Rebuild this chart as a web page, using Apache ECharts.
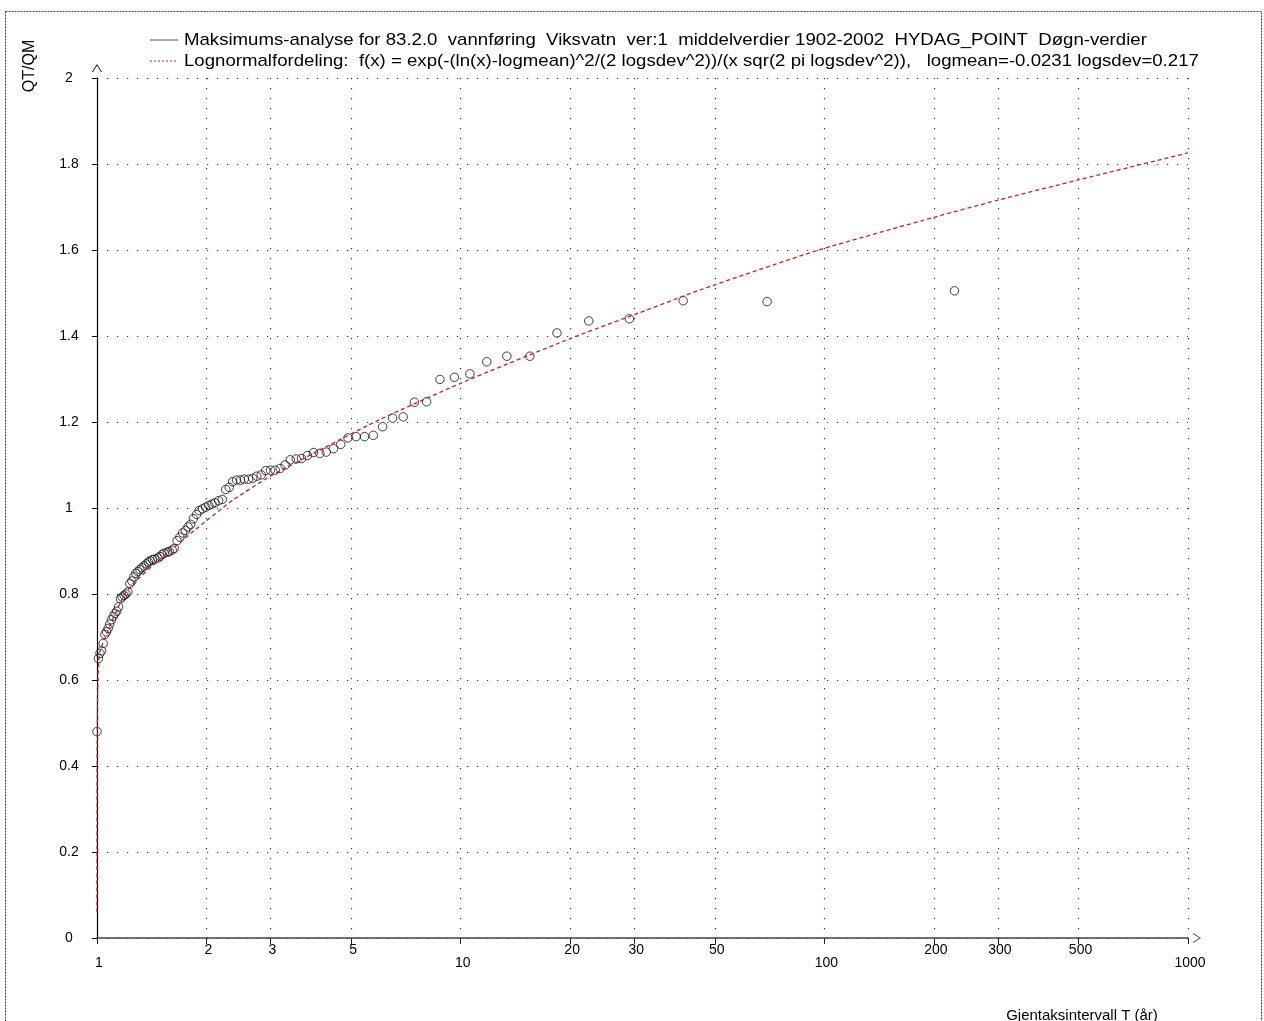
<!DOCTYPE html>
<html>
<head>
<meta charset="utf-8">
<script src="https://cdn.jsdelivr.net/npm/echarts@6/dist/echarts.min.js"></script>
<style>
  html, body { margin: 0; padding: 0; background: #fff; }
  #main { width: 1264px; height: 1021px; }
</style>
</head>
<body>
<div id="main"></div>
<script>
// return period T (years) of each observed annual max, largest first
const returnPeriods = [
  228, 69.6, 40.9, 29.1, 22.5, 18.4, 15.5, 13.4, 11.8, 10.6, 9.61, 8.77, 8.06, 7.46, 6.95, 6.50,
  6.10, 5.75, 5.44, 5.16, 4.90, 4.68, 4.47, 4.27, 4.10, 3.94, 3.79, 3.65, 3.53, 3.40, 3.29,
  3.19, 3.09, 3.00, 2.91, 2.83, 2.75, 2.68, 2.61, 2.54, 2.48, 2.42, 2.36, 2.31, 2.26,
  2.21, 2.16, 2.11, 2.07, 2.03, 1.99, 1.95, 1.91, 1.88, 1.84, 1.81, 1.78, 1.75, 1.72, 1.69,
  1.66, 1.63, 1.61, 1.58, 1.56, 1.53, 1.51, 1.49, 1.47, 1.44, 1.42, 1.40, 1.385, 1.366, 1.347,
  1.329, 1.312, 1.295, 1.279, 1.262, 1.247, 1.231, 1.216, 1.201, 1.187, 1.173, 1.160, 1.146,
  1.133, 1.121, 1.108, 1.096, 1.084, 1.073, 1.062, 1.051, 1.040, 1.029, 1.019, 1.009, 1.0
];
// QT/QM of the same points
const qtqm = [
  1.505, 1.480, 1.482, 1.440, 1.435, 1.407, 1.353, 1.353, 1.340, 1.312, 1.304, 1.299, 1.247, 1.246, 1.212, 1.209,
  1.189, 1.169, 1.166, 1.166, 1.163, 1.148, 1.138, 1.130, 1.127, 1.129, 1.122, 1.115, 1.114, 1.112, 1.100,
  1.092, 1.088, 1.088, 1.087, 1.077, 1.074, 1.069, 1.067, 1.067, 1.065, 1.065, 1.061, 1.048, 1.043,
  1.020, 1.017, 1.012, 1.009, 1.006, 1.002, 0.998, 0.994, 0.985, 0.975, 0.962, 0.956, 0.948, 0.942, 0.932,
  0.924, 0.906, 0.902, 0.899, 0.897, 0.895, 0.892, 0.887, 0.884, 0.881, 0.880, 0.877, 0.874, 0.870, 0.865,
  0.861, 0.857, 0.852, 0.848, 0.840, 0.830, 0.824, 0.805, 0.800, 0.797, 0.793, 0.789, 0.770, 0.760,
  0.755, 0.748, 0.740, 0.730, 0.720, 0.712, 0.706, 0.685, 0.668, 0.662, 0.650, 0.480
];

// lognormal curve
const fitT = [1.0, 1.001, 1.005, 1.019, 1.18, 1.26, 1.49, 1.86, 2.37, 3.0, 4.37, 6.0, 10, 20, 31, 45.5, 96.6, 200, 300, 500, 1000];
const fitQ = [0.06, 0.45, 0.58, 0.666, 0.794, 0.825, 0.881, 0.949, 1.019, 1.074, 1.147, 1.206, 1.29, 1.394, 1.454, 1.507, 1.60, 1.676, 1.716, 1.763, 1.826];

const xTicks = [1, 2, 3, 5, 10, 20, 30, 50, 100, 200, 300, 500, 1000];
const majorTicks = [1, 10, 100, 1000];

const legendObs = 'Maksimums-analyse for 83.2.0  vannføring  Viksvatn  ver:1  middelverdier 1902-2002  HYDAG_POINT  Døgn-verdier';
const legendFit = 'Lognormalfordeling:  f(x) = exp(-(ln(x)-logmean)^2/(2 logsdev^2))/(x sqr(2 pi logsdev^2)),   logmean=-0.0231 logsdev=0.217';

const FONT = '"Liberation Sans", Arial, sans-serif';
const ARROW = 'path://M0,8 L5,0 L10,8 L9,8 L5,1.6 L1,8 Z';

var chart = echarts.init(document.getElementById('main'));

const lg = (v) => Math.log10(v);
const obsData = returnPeriods.map((t, i) => [lg(t), qtqm[i]]);
const fitData = fitT.map((t, i) => [lg(t), fitQ[i]]);

const option = {
  backgroundColor: '#fff',
  animation: false,
  textStyle: { fontFamily: FONT },
  grid: { left: 97, right: 76, top: 78, bottom: 83 },
  xAxis: {
    type: 'value',
    min: 0,
    max: 3,
    axisLine: {
      lineStyle: { color: '#444', width: 1.5 },
      symbol: ['none', ARROW],
      symbolSize: [10, 9],
      symbolOffset: [0, 9]
    },
    axisTick: {
      customValues: xTicks.map(lg),
      length: 6,
      lineStyle: { color: '#222' }
    },
    axisLabel: {
      customValues: xTicks.map(lg),
      color: '#000',
      fontSize: 14,
      fontFamily: FONT,
      margin: 5,
      formatter: (v) => {
        const t = Math.round(Math.pow(10, v));
        return majorTicks.includes(t) ? '{maj|' + t + '}' : '{min|' + t + '}';
      },
      rich: {
        maj: { fontSize: 14, fontFamily: FONT, color: '#000', padding: [13, 0, 0, 4] },
        min: { fontSize: 14, fontFamily: FONT, color: '#000', padding: [0, 0, 0, 4] }
      }
    },
    splitLine: {
      show: true,
      lineStyle: { color: '#333', width: 1.2, type: [1.2, 8.8] }
    }
  },
  yAxis: {
    type: 'value',
    min: 0,
    max: 2,
    interval: 0.2,
    axisLine: {
      show: true,
      lineStyle: { color: '#000', width: 1.2 },
      symbol: ['none', ARROW],
      symbolSize: [10, 9],
      symbolOffset: [0, 10]
    },
    axisTick: { show: true, length: 5, lineStyle: { color: '#000' } },
    axisLabel: { color: '#000', fontSize: 14, fontFamily: FONT, margin: 28, align: 'center' },
    splitLine: {
      show: true,
      lineStyle: { color: '#333', width: 1.2, type: [1.2, 8.8] }
    }
  },
  series: [
    {
      name: legendObs,
      type: 'scatter',
      data: obsData,
      symbol: 'circle',
      symbolSize: 8.5,
      clip: false,
      itemStyle: { color: 'rgba(0,0,0,0)', borderColor: '#111', borderWidth: 1 },
      z: 3
    },
    {
      name: legendFit,
      type: 'line',
      data: fitData,
      showSymbol: false,
      symbol: 'none',
      smooth: 0.2,
      clip: false,
      lineStyle: { color: '#cc2020', width: 1.3, type: [4, 3] },
      z: 4
    }
  ],
  graphic: [
    {
      type: 'rect',
      shape: { x: 5.5, y: 11.5, width: 1256, height: 1040 },
      style: { fill: 'none', stroke: '#444', lineWidth: 1, lineDash: [2, 1] },
      silent: true
    },
    {
      type: 'line',
      shape: { x1: 150, y1: 40, x2: 178, y2: 40 },
      style: { stroke: '#555', lineWidth: 1 }
    },
    {
      type: 'text',
      x: 184, y: 40,
      scaleX: 1.095,
      style: { text: legendObs, font: '17px ' + FONT, fill: '#000', verticalAlign: 'middle' }
    },
    {
      type: 'line',
      shape: { x1: 150, y1: 61, x2: 178, y2: 61 },
      style: { stroke: '#cc2020', lineWidth: 1, lineDash: [2, 2] }
    },
    {
      type: 'text',
      x: 184, y: 61,
      scaleX: 1.095,
      style: { text: legendFit, font: '17px ' + FONT, fill: '#000', verticalAlign: 'middle' }
    },
    {
      type: 'text',
      x: 30, y: 66,
      rotation: Math.PI / 2,
      style: { text: 'QT/QM', font: '16px ' + FONT, fill: '#000', align: 'center', verticalAlign: 'middle' }
    },
    {
      type: 'text',
      x: 1082, y: 1016,
      style: { text: 'Gjentaksintervall T (år)', font: '15px ' + FONT, fill: '#000', align: 'center', verticalAlign: 'middle' }
    }
  ]
};

option && chart.setOption(option);
</script>
</body>
</html>
